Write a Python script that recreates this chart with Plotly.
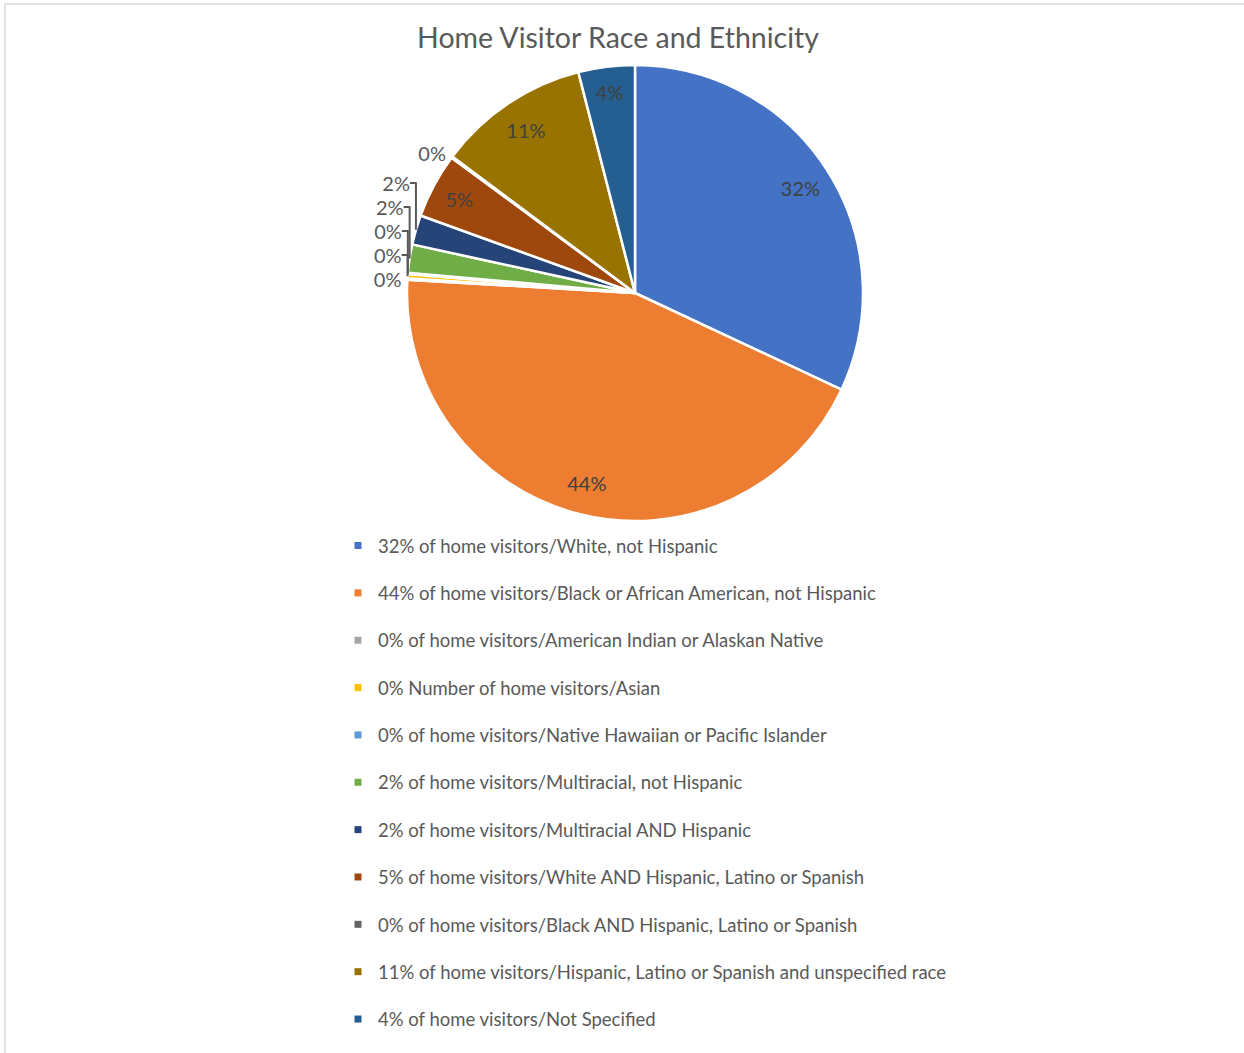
import plotly.graph_objects as go

title = "Home Visitor Race and Ethnicity"
labels = [
    "32% of home visitors/White, not Hispanic",
    "44% of home visitors/Black or African American, not Hispanic",
    "0% of home visitors/American Indian or Alaskan Native",
    "0% Number of home visitors/Asian",
    "0% of home visitors/Native Hawaiian or Pacific Islander",
    "2% of home visitors/Multiracial, not Hispanic",
    "2% of home visitors/Multiracial AND Hispanic",
    "5% of home visitors/White AND Hispanic, Latino or Spanish",
    "0% of home visitors/Black AND Hispanic, Latino or Spanish",
    "11% of home visitors/Hispanic, Latino or Spanish and unspecified race",
    "4% of home visitors/Not Specified",
]
values = [32.0, 44.0, 0.1, 0.3, 0.1, 2.0, 2.1, 4.6, 0.1, 10.8, 4.0]
colors = ["#4472C4", "#ED7D31", "#A5A5A5", "#FFC000", "#5B9BD5", "#70AD47",
          "#264478", "#9E480E", "#636363", "#997300", "#255E91"]
text_pos = ["inside", "inside", "outside", "outside", "outside", "outside",
            "outside", "inside", "outside", "inside", "inside"]

W, H = 1244, 1053
FONT = "Lato, 'Open Sans', sans-serif"
cx, cy, r = 635, 293, 228
dom = dict(x=[(cx - r) / W, (cx + r) / W], y=[(H - cy - r) / H, (H - cy + r) / H])

fig = go.Figure()
# filled slices
fig.add_trace(go.Pie(
    labels=labels, values=values, sort=False, direction="clockwise", rotation=0,
    marker=dict(colors=colors, line=dict(color="white", width=2.5)),
    textinfo="none", showlegend=False, hoverinfo="label+percent", domain=dom,
))
# transparent ring carrying the data labels (places inside labels near the rim)
fig.add_trace(go.Pie(
    labels=labels, values=values, sort=False, direction="clockwise", rotation=0,
    hole=0.72,
    marker=dict(colors=["rgba(0,0,0,0)"] * len(values), line=dict(width=0)),
    texttemplate="%{percent:.0%}", textposition=text_pos,
    insidetextorientation="horizontal",
    textfont=dict(family=FONT, size=20, color="#404040"),
    outsidetextfont=dict(family=FONT, size=20, color="#595959"),
    showlegend=False, hoverinfo="skip", domain=dom,
))

for lab, col in zip(labels, colors):
    fig.add_trace(go.Scatter(
        x=[None], y=[None], mode="markers", name=lab, legendgroup=lab,
        marker=dict(symbol="square", size=7, color=col), showlegend=True,
    ))

fig.update_layout(
    width=W, height=H, margin=dict(l=0, r=0, t=0, b=0),
    paper_bgcolor="white", plot_bgcolor="white",
    xaxis=dict(visible=False), yaxis=dict(visible=False),
    title=dict(text=title, x=618 / W, xanchor="center", y=1 - 38 / H, yanchor="middle",
               font=dict(family=FONT, size=28.5, color="#595959")),
    uniformtext=dict(minsize=20, mode="show"),
    legend=dict(x=338 / W, xanchor="left", y=1 - 527 / H, yanchor="top",
                font=dict(family=FONT, size=18.5, color="#595959"),
                tracegroupgap=20.3, bgcolor="rgba(0,0,0,0)"),
    shapes=[dict(type="rect", xref="paper", yref="paper",
                 x0=5 / W, x1=1.01, y0=-0.01, y1=1 - 4 / H,
                 line=dict(color="#D9D9D9", width=1.5))],
)

fig.write_html("out.html", config={"displayModeBar": False},
               post_script="document.body.style.margin='0px';document.body.style.overflow='hidden';")
